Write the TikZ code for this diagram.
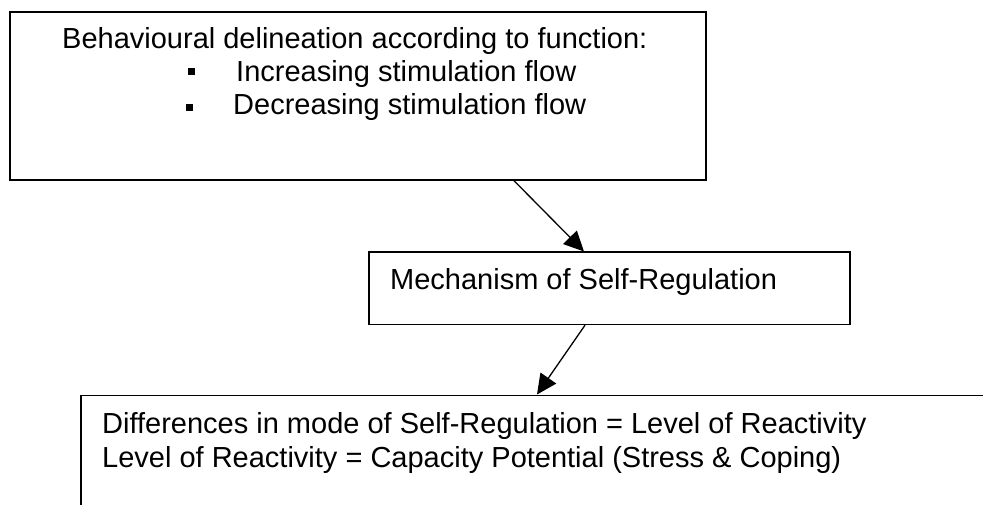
\documentclass[tikz,border=0pt]{standalone}
\usepackage{fontspec}
\setmainfont{Liberation Sans}
\usetikzlibrary{arrows.meta}

\begin{document}
\begin{tikzpicture}[x=1pt,y=-1pt,
    boxframe/.style={draw=black, line width=1.7pt, rectangle, inner sep=0pt, anchor=north west},
    boxtext/.style={inner sep=0pt, anchor=base west, font=\fontsize{29}{33}\selectfont},
    bulletsq/.style={fill=black, rectangle, inner sep=0pt, minimum size=7pt},
    flowarrow/.style={draw=black, line width=1.3pt, -{Triangle[length=20pt,width=19pt]}}]
        \useasboundingbox (0,0) rectangle (983,505);
        \clip (0,0) rectangle (983,505);
        \node [boxframe, minimum width=696pt, minimum height=168pt] (delin) at (9,11) {};
        \node [boxframe, minimum width=481pt, minimum height=72pt] (mech) at (368,251.5) {};
        \node [boxframe, minimum width=1000pt, minimum height=200pt] (diff) at (80,394.5) {};
        \node [boxtext] (delintitle) at (62,48.5) {Behavioural delineation according to function:};
        \node [bulletsq] (bulup) at (191.5,72) {};
        \node [boxtext] (stimup) at (236,82) {Increasing stimulation flow};
        \node [bulletsq] (buldown) at (189.5,107.5) {};
        \node [boxtext] (stimdown) at (233,115) {Decreasing stimulation flow};
        \node [boxtext] (mechtext) at (390,290) {Mechanism of Self-Regulation};
        \node [boxtext] (difftext) at (102,433) {Differences in mode of Self-Regulation = Level of Reactivity};
        \node [boxtext] (reacttext) at (102,467) {Level of Reactivity = Capacity Potential (Stress \& Coping)};
        \draw [flowarrow] ([xshift=505pt]delin.south west) -- ([xshift=216pt]mech.north west);
        \draw [flowarrow] ([xshift=217pt]mech.south west) -- ([xshift=457pt]diff.north west);
    \end{tikzpicture}
\end{document}
